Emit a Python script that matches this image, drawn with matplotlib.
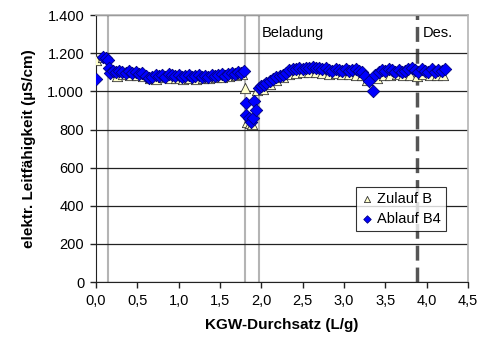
import numpy as np
import matplotlib.pyplot as plt
from matplotlib.ticker import FuncFormatter

plt.rcParams['font.family'] = ['Liberation Sans', 'DejaVu Sans']

# Ablauf B4 (diamonds)
ab_x = [0.00, 0.09, 0.12, 0.14, 0.16, 0.17,
        0.20, 0.24, 0.28, 0.32, 0.36, 0.40, 0.44, 0.48, 0.52, 0.56, 0.60, 0.64, 0.68,
        0.72, 0.76, 0.80, 0.84, 0.88, 0.92, 0.96, 1.00, 1.04, 1.08, 1.12, 1.16, 1.20,
        1.24, 1.28, 1.32, 1.36, 1.40, 1.44, 1.48, 1.52, 1.56, 1.60, 1.64, 1.68, 1.72,
        1.76, 1.79,
        1.81, 1.82, 1.85, 1.88, 1.90, 1.91, 1.93,
        1.97, 2.00, 2.03, 2.06, 2.10, 2.14, 2.18, 2.22, 2.26, 2.30, 2.34, 2.38, 2.42,
        2.46, 2.50, 2.54, 2.58, 2.62, 2.66, 2.70, 2.74, 2.78, 2.82, 2.86, 2.90, 2.94,
        2.98, 3.02, 3.06, 3.10, 3.14, 3.18, 3.22, 3.26, 3.30, 3.35,
        3.38, 3.42, 3.46, 3.50, 3.54, 3.58, 3.62, 3.66, 3.70, 3.74, 3.78, 3.82, 3.86,
        3.90, 3.94, 3.98, 4.02, 4.06, 4.10, 4.14, 4.18, 4.22]
ab_y = [1065, 1180, 1175, 1165, 1120, 1095,
        1105, 1100, 1105, 1100, 1095, 1105, 1095, 1100, 1090, 1095, 1080, 1070, 1075,
        1085, 1080, 1085, 1075, 1090, 1085, 1080, 1085, 1075, 1080, 1085, 1075, 1080,
        1085, 1075, 1080, 1075, 1085, 1080, 1085, 1090, 1080, 1090, 1095, 1090, 1100,
        1095, 1105,
        940, 875, 860, 840, 860, 950, 900,
        1020, 1030, 1035, 1045, 1055, 1065, 1075, 1080, 1085, 1095, 1110, 1115, 1115,
        1120, 1115, 1120, 1125, 1130, 1120, 1125, 1115, 1120, 1110, 1105, 1115, 1110,
        1105, 1115, 1105, 1110, 1115, 1105, 1100, 1080, 1055, 1003,
        1085, 1100, 1110, 1105, 1115, 1110, 1100, 1110, 1100, 1105, 1115, 1125, 1110,
        1100, 1115, 1105, 1100, 1115, 1100, 1110, 1105, 1115]

# Zulauf B (triangles)
zu_x = [0.00, 0.09, 0.25, 0.33, 0.41, 0.49, 0.57, 0.65, 0.73, 0.81, 0.89, 0.97,
        1.05, 1.13, 1.21, 1.29, 1.37, 1.45, 1.53, 1.61, 1.69, 1.77, 1.80,
        1.83, 1.86, 1.89, 1.95, 2.02, 2.10, 2.18, 2.26, 2.34, 2.42, 2.50, 2.58,
        2.66, 2.74, 2.82, 2.90, 2.98, 3.06, 3.14, 3.22, 3.28, 3.40, 3.48, 3.56,
        3.64, 3.72, 3.80, 3.88, 3.96, 4.04, 4.12, 4.20]
zu_y = [1165, 1180, 1080, 1090, 1085, 1085, 1080, 1070, 1065, 1075, 1070, 1070,
        1065, 1070, 1065, 1070, 1070, 1075, 1075, 1080, 1085, 1090, 1020,
        840, 835, 830, 1005, 1010, 1040, 1060, 1075, 1090, 1095, 1100, 1100,
        1100, 1095, 1090, 1095, 1090, 1090, 1085, 1085, 1060, 1070, 1085, 1085,
        1090, 1085, 1085, 1080, 1090, 1085, 1085, 1085]

grey_lines = [0.15, 1.80, 1.97]
des_line = 3.88

fig = plt.figure(figsize=(4.9, 3.42), dpi=100)
ax = fig.add_axes([0.196, 0.175, 0.759, 0.781])

for v in grey_lines:
    ax.axvline(v, color='#b4b4b4', lw=1.5, zorder=1)
ax.axvline(des_line, color='#555555', lw=2.5, dashes=(4.3, 2.0), zorder=1)

ax.scatter(zu_x, zu_y, marker='^', s=55, facecolor='#ffffcc', edgecolor='#333333',
           linewidth=0.6, label='Zulauf B', zorder=3)
ax.scatter(ab_x, ab_y, marker='D', s=40, facecolor='#0000ff', edgecolor='#000080',
           linewidth=0.6, label='Ablauf B4', zorder=4)

ax.set_xlim(0, 4.5)
ax.set_ylim(0, 1400)
ax.set_xticks(np.arange(0, 4.51, 0.5))
ax.set_yticks(np.arange(0, 1401, 200))
ax.xaxis.set_major_formatter(FuncFormatter(lambda v, p: f'{v:.1f}'.replace('.', ',')))
ax.yaxis.set_major_formatter(FuncFormatter(lambda v, p: f'{int(v):,}'.replace(',', '.')))
ax.grid(axis='y', color='#222222', lw=0.9, zorder=0)
ax.tick_params(labelsize=10.5, length=4.5, width=1, color='#222222', pad=4)

for s in ['top', 'right']:
    ax.spines[s].set_color('#b4b4b4')
    ax.spines[s].set_linewidth(1.2)
for s in ['left', 'bottom']:
    ax.spines[s].set_color('#222222')

ax.set_xlabel('KGW-Durchsatz (L/g)', fontsize=11, fontweight='bold', labelpad=7)
ax.set_ylabel('elektr. Leitfähigkeit (µS/cm)', fontsize=11, fontweight='bold', labelpad=8)

ax.text(2.01, 1305, 'Beladung', fontsize=10.5, va='center', ha='left')
ax.text(3.95, 1305, 'Des.', fontsize=10.5, va='center', ha='left')

leg = ax.legend(loc='lower right', bbox_to_anchor=(0.94, 0.19), fontsize=10.5,
                frameon=True, fancybox=False, handlelength=0.8, handletextpad=0.3,
                borderpad=0.35, labelspacing=0.45, borderaxespad=0, markerscale=0.6)
leg.get_frame().set_edgecolor('#000000')
leg.get_frame().set_linewidth(0.8)

plt.savefig('out.png', dpi=100)
